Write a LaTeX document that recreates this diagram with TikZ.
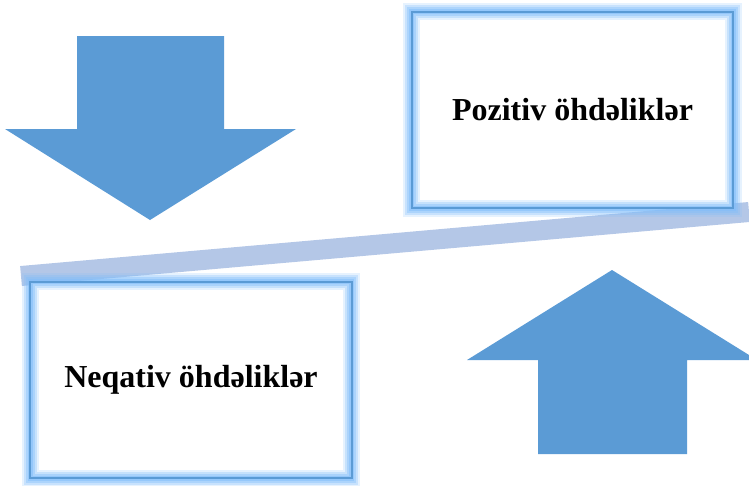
\documentclass[tikz,border=0pt]{standalone}
\usepackage{fontspec}
\setmainfont{Liberation Serif}
\usepackage{tikz}

\definecolor{arrowblue}{HTML}{5B9BD5}
\definecolor{bandblue}{HTML}{B4C7E7}
\definecolor{glowblue}{RGB}{130,190,250}

\begin{document}
\begin{tikzpicture}[x=1pt,y=-1pt]
	\tikzstyle{duty}=[rectangle,fill=white,minimum width=321pt,minimum height=196pt,inner sep=0pt,font=\bfseries\fontsize{32}{38}\selectfont]
	\tikzstyle{block arrow}=[fill=arrowblue]
	\tikzstyle{band}=[draw=bandblue,line width=20pt]
	\tikzstyle{rim}=[draw=arrowblue,line width=1.8pt]
	
	\useasboundingbox (0,0) rectangle (749,485);
	
	% Draw the tilted band
	\coordinate (band-l) at (21,276);
	\coordinate (band-r) at (749,212);
	\path[band] (band-l) -- (band-r);
	
	% Draw the down and up arrows
	\path[block arrow] (77,36) -- (224,36) -- (224,129) -- (296,129) -- (150,220) -- (5,129) -- (77,129) -- cycle;
	\path[block arrow] (538,454) -- (538,360) -- (467,360) -- (612,270) -- (749,355) -- (749,360) -- (687,360) -- (687,454) -- cycle;
	
	% Draw the two boxes
	\node[duty] (pos) at (572.5,110) {Pozitiv öhdəliklər};
	\node[duty] (neg) at (191,380) {Neqativ öhdəliklər};
	
	% Glow round every box
	\foreach \name in {pos,neg}
	\foreach \w/\o in {17/0.2,13/0.3,9/0.4,5/0.55}
	\path[draw=glowblue,line width=\w pt,opacity=\o] (\name.north west) rectangle (\name.south east);
	
	\foreach \name in {pos,neg}
	\path[rim] (\name.north west) rectangle (\name.south east);
\end{tikzpicture}
\end{document}
